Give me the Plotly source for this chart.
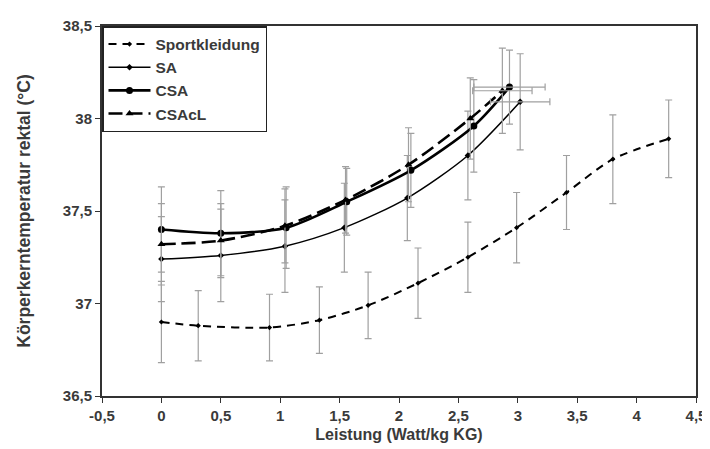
import plotly.graph_objects as go

# ---- data ----
sport_x = [0, 0.31, 0.91, 1.33, 1.74, 2.16, 2.58, 2.99, 3.41, 3.80, 4.27]
sport_y = [36.90, 36.88, 36.87, 36.91, 36.99, 37.11, 37.25, 37.41, 37.60, 37.78, 37.89]
sport_err = [0.22, 0.19, 0.18, 0.18, 0.18, 0.19, 0.19, 0.19, 0.20, 0.24, 0.21]

sa_x = [0, 0.5, 1.04, 1.54, 2.07, 2.58, 3.02]
sa_y = [37.24, 37.26, 37.31, 37.41, 37.57, 37.80, 38.09]
sa_err = [0.23, 0.25, 0.25, 0.24, 0.23, 0.24, 0.26]
sa_xerr_last = 0.25

csa_x = [0, 0.5, 1.05, 1.56, 2.10, 2.63, 2.93]
csa_y = [37.40, 37.38, 37.41, 37.55, 37.72, 37.96, 38.17]
csa_err = [0.23, 0.23, 0.22, 0.18, 0.20, 0.25, 0.20]
csa_xerr_last = 0.30

csacl_x = [0, 0.5, 1.04, 1.55, 2.08, 2.60, 2.87]
csacl_y = [37.32, 37.34, 37.42, 37.56, 37.75, 38.00, 38.15]
csacl_err = [0.22, 0.20, 0.20, 0.18, 0.20, 0.22, 0.23]
csacl_xerr_last = 0.25

x_tickvals = [-0.5, 0, 0.5, 1, 1.5, 2, 2.5, 3, 3.5, 4, 4.5]
x_ticktext = ["-0,5", "0", "0,5", "1", "1,5", "2", "2,5", "3", "3,5", "4", "4,5"]
y_tickvals = [36.5, 37, 37.5, 38, 38.5]
y_ticktext = ["36,5", "37", "37,5", "38", "38,5"]

FONT = "Liberation Sans Narrow, Arial Narrow, Liberation Sans, Arial, sans-serif"
TXT = "#3a3a3a"
ERR = dict(type="data", color="#a0a0a0", thickness=1.2, width=3.5)

fig = go.Figure()

def add_series(name, xs, ys, errs, dash, lw, symbol, msize):
    fig.add_trace(go.Scatter(
        x=xs, y=ys, name=name, mode="lines+markers",
        line=dict(color="black", width=lw, dash=dash, shape="spline", smoothing=0.8),
        marker=dict(color="black", symbol=symbol, size=msize),
        error_y=dict(array=errs, **ERR),
    ))

def add_xerr(xs, ys, xerr):
    fig.add_trace(go.Scatter(
        x=[xs[-1]], y=[ys[-1]], mode="markers", showlegend=False,
        marker=dict(color="rgba(0,0,0,0)", size=1),
        error_x=dict(array=[xerr], **ERR), hoverinfo="skip",
    ))

add_series("Sportkleidung", sport_x, sport_y, sport_err, "8px,6px", 2, "diamond", 4)
add_series("SA", sa_x, sa_y, sa_err, "solid", 1.5, "diamond", 5)
add_series("CSA", csa_x, csa_y, csa_err, "solid", 2.6, "circle", 7)
add_series("CSAcL", csacl_x, csacl_y, csacl_err, "14px,6px", 2.6, "triangle-up", 7)
add_xerr(sa_x, sa_y, sa_xerr_last)
add_xerr(csa_x, csa_y, csa_xerr_last)
add_xerr(csacl_x, csacl_y, csacl_xerr_last)

fig.update_layout(
    width=710, height=449,
    margin=dict(l=94, r=22, t=18, b=61, autoexpand=False),
    paper_bgcolor="white", plot_bgcolor="white",
    font=dict(family=FONT, size=15, color=TXT, weight="bold"),
    showlegend=True,
    legend=dict(
        x=0, y=1, xanchor="left", yanchor="top",
        bgcolor="white", bordercolor="#222222", borderwidth=1.5,
        font=dict(family=FONT, size=15.5, color=TXT, weight="bold"),
        tracegroupgap=0, itemwidth=42,
    ),
    xaxis=dict(
        range=[-0.5, 4.5], tickvals=x_tickvals, ticktext=x_ticktext,
        automargin=False,
        showgrid=False, zeroline=False,
        showline=True, linecolor="#333333", linewidth=2, mirror=True,
        ticks="outside", ticklen=5, tickcolor="#333333",
        tickfont=dict(family=FONT, size=15, color=TXT, weight="bold"),
        title=dict(text="Leistung (Watt/kg KG)", standoff=6,
                   font=dict(family=FONT, size=16, color=TXT, weight="bold")),
    ),
    yaxis=dict(
        range=[36.5, 38.5], tickvals=y_tickvals, ticktext=y_ticktext,
        automargin=False,
        showgrid=False, zeroline=False,
        showline=True, linecolor="#333333", linewidth=2, mirror=True,
        ticks="outside", ticklen=5, tickcolor="#333333",
        tickfont=dict(family=FONT, size=15, color=TXT, weight="bold"),
        title=dict(text="Körperkerntemperatur rektal (°C)", standoff=28,
                   font=dict(family=FONT, size=17.5, color=TXT, weight="bold")),
    ),
)

fig.write_html("out.html")
